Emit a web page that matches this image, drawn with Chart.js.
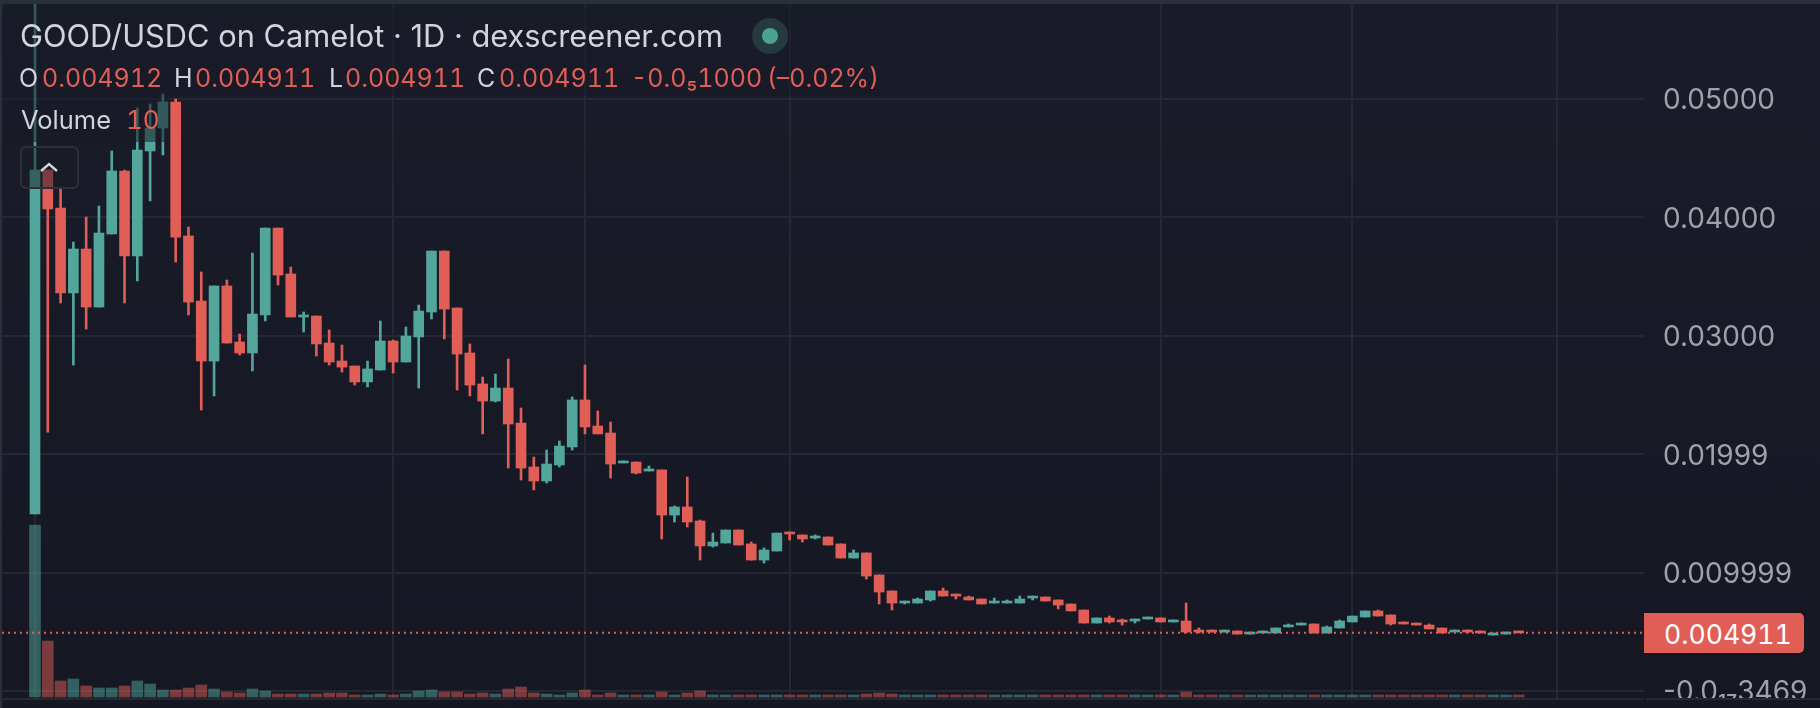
<!DOCTYPE html>
<html>
<head>
<meta charset="utf-8">
<title>GOOD/USDC on Camelot</title>
<script src="https://cdn.jsdelivr.net/npm/chart.js@4"></script>
<style>
html,body{margin:0;padding:0;width:1820px;height:708px;overflow:hidden;background:#2b2e3b;}
#frame{position:absolute;left:2px;top:4px;width:1818px;height:704px;border-top-left-radius:8px;background:linear-gradient(#1a1d29,#151823);overflow:hidden;}
canvas{position:absolute;left:0;top:0;}
.ov{position:absolute;font-family:Inter,sans-serif;white-space:nowrap;line-height:1;font-variant-numeric:tabular-nums;}
.w{color:#d1d4dc;}.r{color:#e15e57;}
.shade{position:absolute;background:rgba(24,27,38,.55);}
.row{top:66px;font-size:25px}
</style>
</head>
<body>
<div id="frame"></div>
<canvas id="c" width="1820" height="708"></canvas>
<div class="shade" style="left:2px;top:4px;width:880px;height:92px"></div>
<div class="shade" style="left:2px;top:96px;width:168px;height:46px"></div>
<div class="ov w" style="left:20px;top:21px;font-size:30.8px;font-variant-numeric:normal">GOOD/USDC on Camelot · 1D · dexscreener.com</div>
<div style="position:absolute;left:752px;top:18px;width:36px;height:36px;border-radius:50%;background:#253a3e"></div>
<div style="position:absolute;left:762px;top:28px;width:16px;height:16px;border-radius:50%;background:#4aa38f"></div>
<div class="ov w row" style="left:19px">O</div>
<div class="ov r row" style="left:42px">0.004912</div>
<div class="ov w row" style="left:174px">H</div>
<div class="ov r row" style="left:195px">0.004911</div>
<div class="ov w row" style="left:329px">L</div>
<div class="ov r row" style="left:345px">0.004911</div>
<div class="ov w row" style="left:477px">C</div>
<div class="ov r row" style="left:499px">0.004911</div>
<div class="ov r row" style="left:631px">-0.0₅1000</div>
<div class="ov r row" style="left:767px">(–0.02%)</div>
<div class="ov w" style="left:21px;top:107px;font-size:25.5px">Volume</div>
<div class="ov r" style="left:126px;top:107px;font-size:26px">10</div>
<div style="position:absolute;left:20px;top:146px;width:55px;height:39px;border:2px solid #2d303b;border-radius:6px;background:rgba(24,27,38,.5)"></div>
<svg style="position:absolute;left:38px;top:158px" width="22" height="18"><path d="M3 13 L11 6 L19 13" fill="none" stroke="#d1d4dc" stroke-width="2.4"/></svg>
<div style="position:absolute;left:2px;top:698px;width:1642px;height:2px;background:#262934"></div>
<div style="position:absolute;left:1646px;top:698px;width:174px;height:2px;background:#262934"></div>
<div class="ov" style="left:1644px;top:613px;width:160px;height:40px;background:#e15e57;border-radius:0 5px 5px 0;color:#fff;font-size:26.6px;line-height:42px;text-align:left;text-indent:20px">0.004911</div>
<script>
const opens=[.01495,.04400,.04079,.03362,.03733,.03243,.03860,.04392,.03674,.04561,.04755,.04975,.03843,.03294,.02787,.03421,.02948,.02855,.03176,.03910,.03522,.03159,.03167,.02939,.02787,.02745,.02610,.02711,.02956,.02779,.02990,.03201,.03716,.03235,.02855,.02593,.02449,.02559,.02263,.01892,.01774,.01909,.02061,.02458,.02238,.02179,.01926,.01934,.01858,.01867,.01486,.01554,.01436,.01225,.01250,.01360,.01242,.01106,.01182,.01343,.01318,.01292,.01301,.01242,.01123,.01166,.00980,.00845,.00743,.00743,.00769,.00845,.00819,.00794,.00777,.00743,.00743,.00743,.00785,.00794,.00769,.00735,.00684,.00574,.00617,.00600,.00591,.00608,.00617,.00583,.00591,.00515,.00515,.00498,.00507,.00481,.00490,.00490,.00541,.00557,.00566,.00490,.00532,.00583,.00625,.00676,.00642,.00583,.00574,.00557,.00532,.00498,.00515,.00507,.00473,.00481,.004912];
const highs=[.05802,.04400,.04240,.03792,.04003,.04096,.04561,.04400,.04924,.04958,.05042,.05000,.03919,.03539,.03421,.03471,.03015,.03699,.03910,.03910,.03581,.03201,.03167,.03049,.02922,.02745,.02787,.03125,.02964,.03074,.03260,.03716,.03716,.03235,.02931,.02652,.02677,.02804,.02390,.01976,.02035,.02112,.02483,.02753,.02365,.02272,.01943,.01934,.01900,.01867,.01563,.01807,.01444,.01334,.01360,.01360,.01258,.01208,.01334,.01343,.01318,.01318,.01301,.01242,.01191,.01166,.00980,.00845,.00760,.00785,.00845,.00870,.00819,.00802,.00777,.00785,.00769,.00802,.00802,.00794,.00769,.00735,.00684,.00617,.00633,.00608,.00608,.00625,.00617,.00600,.00743,.00532,.00515,.00515,.00507,.00498,.00507,.00532,.00566,.00574,.00566,.00549,.00600,.00633,.00676,.00684,.00642,.00583,.00574,.00566,.00532,.00515,.00515,.00507,.00490,.00498,.004912];
const lows=[.01495,.02187,.03277,.02753,.03057,.03243,.03860,.03277,.03463,.04139,.04527,.03623,.03176,.02373,.02492,.02939,.02838,.02703,.03125,.03429,.03159,.03032,.02829,.02753,.02694,.02584,.02568,.02711,.02686,.02779,.02559,.03142,.02973,.02542,.02492,.02171,.02441,.01883,.01782,.01698,.01757,.01892,.02035,.02171,.02171,.01799,.01926,.01833,.01858,.01284,.01427,.01385,.01106,.01216,.01250,.01233,.01106,.01081,.01182,.01275,.01258,.01284,.01233,.01123,.01123,.00946,.00735,.00684,.00735,.00743,.00760,.00802,.00777,.00769,.00735,.00743,.00743,.00743,.00769,.00760,.00693,.00676,.00574,.00574,.00574,.00557,.00574,.00608,.00583,.00583,.00490,.00490,.00498,.00498,.00481,.00481,.00490,.00490,.00541,.00557,.00490,.00490,.00532,.00583,.00625,.00633,.00557,.00566,.00557,.00524,.00490,.00498,.00490,.00490,.00473,.00481,.004911];
const closes=[.04400,.04071,.03362,.03733,.03243,.03868,.04392,.03674,.04569,.04755,.04975,.03834,.03285,.02787,.03421,.02939,.02855,.03184,.03910,.03513,.03159,.03176,.02931,.02779,.02736,.02610,.02720,.02956,.02779,.02998,.03209,.03716,.03226,.02846,.02584,.02449,.02559,.02255,.01883,.01774,.01917,.02069,.02458,.02230,.02171,.01917,.01943,.01841,.01875,.01486,.01554,.01427,.01225,.01258,.01360,.01233,.01106,.01191,.01334,.01326,.01284,.01309,.01233,.01123,.01166,.00971,.00836,.00743,.00760,.00777,.00845,.00802,.00802,.00769,.00735,.00760,.00760,.00777,.00802,.00760,.00726,.00676,.00574,.00617,.00583,.00583,.00608,.00625,.00583,.00600,.00498,.00498,.00498,.00515,.00481,.00498,.00507,.00532,.00557,.00574,.00490,.00541,.00591,.00633,.00676,.00633,.00566,.00566,.00557,.00524,.00490,.00515,.00498,.00490,.00490,.00498,.004911];
const volumes=[172,56,16,18,11,9,9,11,16,13,7,7,9,12,8,5,4,8,6,3,3,3,3,4,4,2,2,3,2,3,6,7,5,5,3,4,3,8,10,4,3,2,4,7,2,4,2,2,2,5,2,4,6,2,2,2,2,2,2,2,2,2,2,2,2,3,4,3,2,2,2,2,2,2,2,2,2,2,2,2,2,2,2,2,2,2,2,2,2,2,5,2,2,2,2,2,2,2,2,2,2,2,2,2,2,2,2,2,2,2,2,2,2,2,2,2,0.01];
const priceTicks=[0.05,0.04,0.03,0.01999,0.009999,0];
const priceTickLabels=["0.05000","0.04000","0.03000","0.01999","0.009999","-0.0₁₇3469"];
const gridCandles=[0,28,43,59,88,103,119];
const lastPrice=0.004911;

const UP="#53a69b",DOWN="#e15e57",UP_V="rgba(83,166,155,.5)",DOWN_V="rgba(225,94,87,.5)";
const GRID="#252833";
const isUp=i=>closes[i]>=opens[i];
const candleColors=opens.map((_,i)=>isUp(i)?UP:DOWN);
const volumeColors=opens.map((_,i)=>isUp(i)?UP_V:DOWN_V);
const xMin=-2.58,xMax=125.8;

new Chart(document.getElementById("c"),{
  type:"bar",
  data:{datasets:[
    {type:"line",data:[{x:xMin,y:lastPrice},{x:xMax,y:lastPrice}],yAxisID:"y",borderColor:DOWN,borderWidth:2,borderDash:[2,4],pointRadius:0,order:0},
    {data:opens.map((o,i)=>({x:i,y:[o,closes[i]]})),yAxisID:"y",backgroundColor:candleColors,barThickness:10,minBarLength:2,grouped:false,order:1},
    {data:opens.map((o,i)=>({x:i,y:[lows[i],highs[i]]})),yAxisID:"y",backgroundColor:candleColors,barThickness:2,grouped:false,order:2},
    {data:volumes.map((v,i)=>({x:i,y:v})),yAxisID:"v",backgroundColor:volumeColors,barThickness:11,minBarLength:2,grouped:false,order:3}
  ]},
  options:{
    responsive:false,animation:false,
    layout:{padding:{left:2,top:4,bottom:9,right:0}},
    plugins:{legend:{display:false},tooltip:{enabled:false},title:{display:false}},
    scales:{
      x:{type:"linear",min:xMin,max:xMax,offset:false,
        afterBuildTicks:s=>{s.ticks=gridCandles.map(v=>({value:v}));},
        grid:{offset:false,color:GRID,lineWidth:2,drawTicks:false},border:{display:false},ticks:{display:false}},
      y:{position:"right",min:-0.000676,max:0.058024,
        afterBuildTicks:s=>{s.ticks=priceTicks.map(v=>({value:v}));},
        afterFit:s=>{s.width=176;s.paddingTop=0;s.paddingBottom=0;},
        grid:{color:GRID,lineWidth:2,drawTicks:false},border:{display:false},
        ticks:{padding:19,labelOffset:c=>c.index===priceTicks.length-1?-1:2,color:"#9fa2ab",font:{family:"Inter",size:28},
          callback:(v)=>priceTickLabels[priceTicks.indexOf(v)]}},
      v:{display:false,min:-2,max:693}
    }
  },
  plugins:[{id:"clipBottom",afterDraw(ch){ch.ctx.clearRect(0,699,1820,9);}}]
});
</script>
</body>
</html>
